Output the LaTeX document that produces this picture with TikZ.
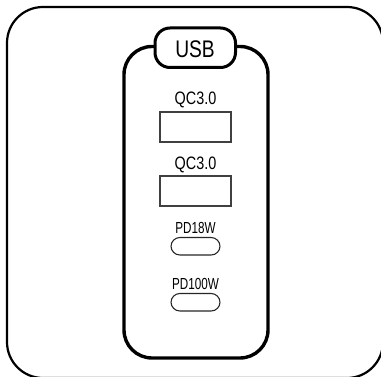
\documentclass[tikz,border=0pt]{standalone}
\usepackage{fontspec}
\setmainfont{Liberation Sans}
\newfontfamily\narrowf[FakeStretch=0.8]{Liberation Sans}
\newfontfamily\narrowg[FakeStretch=0.73]{Liberation Sans}
\tikzset{
 x=1pt,y=-1pt,
 frameline/.style={draw=black,line width=2.2pt,rounded corners=36pt},
 bodyline/.style={draw=black,line width=3.4pt,rounded corners=28pt},
 capline/.style={draw=black,line width=3pt,fill=white,rounded corners=15pt},
 portbox/.style={draw=black!75,line width=1.2pt,fill=white},
 slotbox/.style={draw=black!85,line width=1.1pt,fill=white,rounded corners=8.9pt},
 lab/.style={font=\narrowf\fontsize{18}{18}\selectfont,inner sep=0pt,anchor=center},
 smalllab/.style={font=\narrowg\fontsize{16}{16}\selectfont,inner sep=0pt,anchor=center},
 usblab/.style={font=\narrowf\fontsize{24}{24}\selectfont,inner sep=0pt,anchor=center},
}
\begin{document}
\begin{tikzpicture}
\useasboundingbox (0,0) rectangle (381,377);
\clip (0,0) rectangle (381,377);
\draw[frameline] (7,7) rectangle (383,378);
\draw[bodyline] (155,46.5) -- (124,46.5) -- (124,358) -- (268,358) -- (268,46.5) -- (235,46.5);
\draw[capline] (155,28) rectangle (235.5,67.5);
\node[usblab] (usb) at (195,49) {USB};
\node[lab] (l1) at (195.5,99.5) {QC3.0};
\draw[portbox] (160,112) rectangle (231,142);
\node[lab] (l2) at (195.5,164.5) {QC3.0};
\draw[portbox] (160,176) rectangle (231,206);
\node[smalllab] (l3) at (195.5,227.5) {PD18W};
\draw[slotbox] (171,237.5) rectangle (220,255);
\node[smalllab] (l4) at (195.5,284) {PD100W};
\draw[slotbox] (171,293.5) rectangle (220,311);
\end{tikzpicture}
\end{document}
